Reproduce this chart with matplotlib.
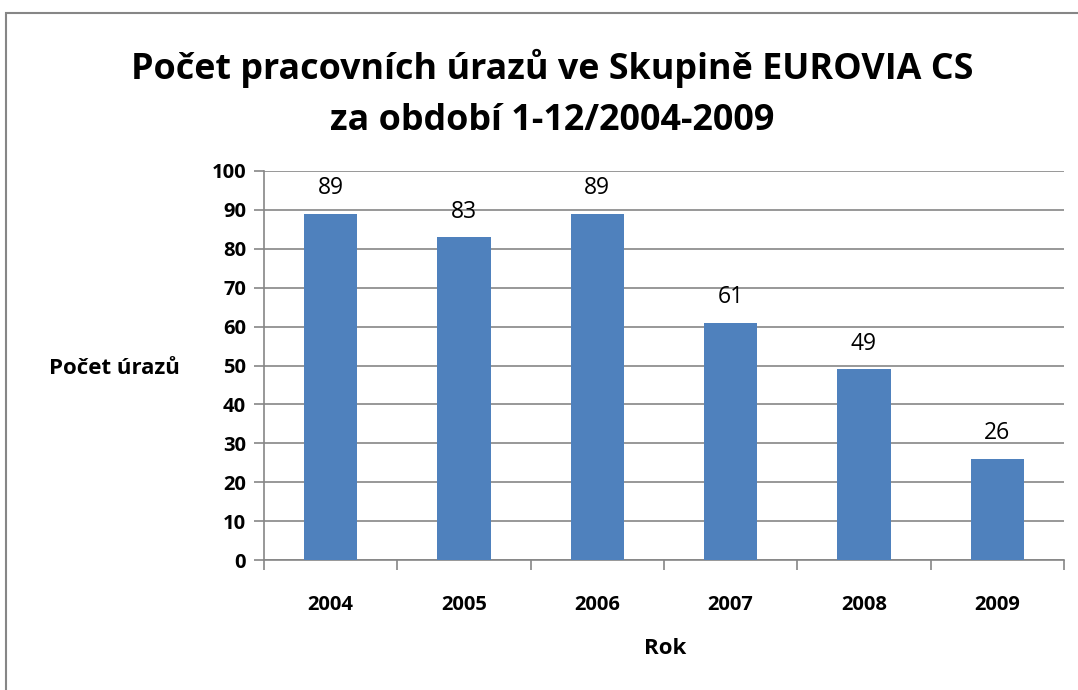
import matplotlib
matplotlib.use("Agg")
import matplotlib.pyplot as plt
from matplotlib.patches import Rectangle

years = ["2004", "2005", "2006", "2007", "2008", "2009"]
counts = [89, 83, 89, 61, 49, 26]
yticks = [0, 10, 20, 30, 40, 50, 60, 70, 80, 90, 100]

plt.rcParams['font.family'] = ['Open Sans', 'DejaVu Sans']

W, H = 1078, 690
fig = plt.figure(figsize=(W/100, H/100), dpi=100)
fig.patches.append(Rectangle((6/W, -0.1), 1.2, 1 - 13/H + 0.1, transform=fig.transFigure,
                             fill=False, edgecolor='#868686', linewidth=1.5))

ax = fig.add_axes([264/W, 1 - 560/H, 800/W, (560-171)/H])
x = list(range(len(years)))
ax.bar(x, counts, width=0.4, color='#4F81BD', zorder=3)
for xi, v in zip(x, counts):
    ax.text(xi, v + 3.5, str(v), ha='center', va='bottom', fontsize=16.5, color='black')

ax.set_xlim(-0.5, len(years) - 0.5)
ax.set_ylim(0, 100)
ax.set_yticks(yticks)
ax.set_yticklabels([str(t) for t in yticks], fontsize=14.5, fontweight='bold')
ax.yaxis.grid(True, color='#868686', linewidth=1.2, zorder=0)
ax.set_xticks(x)
ax.set_xticklabels(years, fontsize=14.5, fontweight='bold')
ax.set_xticks([i - 0.5 for i in range(len(years) + 1)], minor=True)
ax.tick_params(axis='x', which='major', length=0, pad=25)
ax.tick_params(axis='x', which='minor', length=7, width=1.2, color='#868686', direction='out')
ax.tick_params(axis='y', length=7, width=1.2, color='#868686', pad=6)
for s in ['top', 'right']:
    ax.spines[s].set_visible(False)
for s in ['left', 'bottom']:
    ax.spines[s].set_color('#868686')
    ax.spines[s].set_linewidth(1.2)

fig.text(114/W, 1 - 368/H, "Počet úrazů", ha='center', va='center', fontsize=16, fontweight='bold')
fig.text(665/W, 1 - 649/H, "Rok", ha='center', va='center', fontsize=16, fontweight='bold')
fig.text(552/W, 1 - 94/H, "Počet pracovních úrazů ve Skupině EUROVIA CS\nza období 1-12/2004-2009",
         ha='center', va='center', fontsize=25.8, fontweight='bold', linespacing=1.55)

fig.savefig("out.png", dpi=100)
